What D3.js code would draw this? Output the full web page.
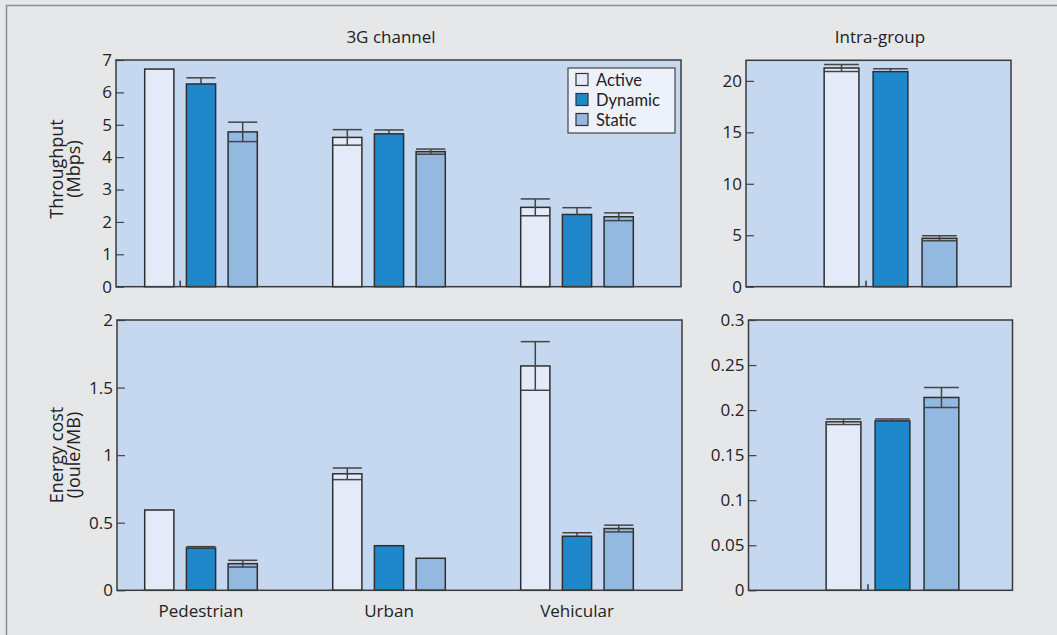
<!DOCTYPE html>
<html>
<head>
<meta charset="UTF-8"/>
<style>
  body { margin: 0; background: #e6e7e9; }
  text { font-family: "Open Sans", "Noto Sans", sans-serif; fill: #222; }
</style>
</head>
<body>
<script src="https://d3js.org/d3.v7.min.js"></script>
<script>
// data
var groups = ["Pedestrian", "Urban", "Vehicular"];
var series = ["Active", "Dynamic", "Static"];
var colors = ["#e4eaf7", "#1f88ca", "#94b9e0"];
// the dark Dynamic bars show only the upper whisker
var lowerWhisker = [true, false, true];

var throughput3G    = [[6.72, 6.26, 4.78], [4.61, 4.72, 4.17], [2.45, 2.23, 2.16]];
var throughput3GErr = [[0, 0.19, 0.30], [0.24, 0.12, 0.08], [0.26, 0.21, 0.12]];
var energy3G        = [[0.594, 0.313, 0.197], [0.862, 0.33, 0.237], [1.66, 0.40, 0.457]];
var energy3GErr     = [[0, 0.01, 0.025], [0.043, 0, 0], [0.18, 0.026, 0.025]];

var throughputIntra    = [21.25, 20.9, 4.7];
var throughputIntraErr = [0.33, 0.27, 0.24];
var energyIntra        = [0.187, 0.188, 0.214];
var energyIntraErr     = [0.003, 0.002, 0.011];

var tpTicks = [0, 1, 2, 3, 4, 5, 6, 7];
var enTicks = [0, 0.5, 1, 1.5, 2];
var tpIntraTicks = [0, 5, 10, 15, 20];
var enIntraTicks = [0, 0.05, 0.1, 0.15, 0.2, 0.25, 0.3];

var width = 1057, height = 635;
var svg = d3.select("body").append("svg")
    .attr("width", width)
    .attr("height", height);

svg.append("rect").attr("width", width).attr("height", height).attr("fill", "#e6e7e9");
svg.append("path").attr("d", "M6.5,635V5.5H1057")
    .attr("fill", "none").attr("stroke", "#8c8c8c").attr("stroke-width", 1.5);

function panel(opt) {
    var g = svg.append("g");
    var y = d3.scaleLinear().domain(opt.domain).range([opt.bottom, opt.top]);
    var x0 = d3.scaleBand().domain(opt.groups)
        .range([opt.left + opt.shift0, opt.right + opt.shift1]);
    var x1 = d3.scaleBand().domain(series)
        .range([-opt.inner / 2, opt.inner / 2]).paddingInner(opt.pad);

    g.append("rect")
        .attr("x", opt.left).attr("y", opt.top)
        .attr("width", opt.right - opt.left).attr("height", opt.bottom - opt.top)
        .attr("fill", "#c6d8ef");

    var bars = [];
    opt.groups.forEach(function(grp, i) {
        series.forEach(function(s, j) {
            bars.push({ g: grp, s: s, j: j, v: opt.values[i][j], e: opt.errors[i][j] });
        });
    });

    var cx = function(d) { return x0(d.g) + x0.bandwidth() / 2 + x1(d.s); };
    var bw = x1.bandwidth();
    var lo = function(d) { return lowerWhisker[d.j] ? d.v - d.e : d.v; };

    g.selectAll(".bar").data(bars).enter().append("rect")
        .attr("x", cx)
        .attr("y", function(d) { return y(d.v); })
        .attr("width", bw)
        .attr("height", function(d) { return y(0) - y(d.v); })
        .attr("fill", function(d) { return colors[d.j]; })
        .attr("stroke", "#2e2e2e").attr("stroke-width", 1.5);

    var eb = g.selectAll(".err").data(bars.filter(function(d) { return d.e > 0; }))
        .enter().append("g").attr("stroke", "#444").attr("stroke-width", 1.5);
    eb.append("line")
        .attr("x1", cx).attr("x2", function(d) { return cx(d) + bw; })
        .attr("y1", function(d) { return y(d.v + d.e); })
        .attr("y2", function(d) { return y(d.v + d.e); });
    eb.filter(function(d) { return lowerWhisker[d.j]; }).append("line")
        .attr("x1", cx).attr("x2", function(d) { return cx(d) + bw; })
        .attr("y1", function(d) { return y(d.v - d.e); })
        .attr("y2", function(d) { return y(d.v - d.e); });
    eb.append("line")
        .attr("x1", function(d) { return cx(d) + bw / 2; })
        .attr("x2", function(d) { return cx(d) + bw / 2; })
        .attr("y1", function(d) { return y(d.v + d.e); })
        .attr("y2", function(d) { return y(lo(d)); });

    // small tick between first two bars
    if (opt.midTick) {
        var first = bars[0];
        var tx = cx(first) + bw + (x1.step() - bw) / 2;
        g.append("line").attr("x1", tx).attr("x2", tx)
            .attr("y1", y(0)).attr("y2", y(0) - 6)
            .attr("stroke", "#333").attr("stroke-width", 1.5);
    }

    var ax = g.append("g")
        .attr("transform", "translate(" + opt.left + ",0)")
        .call(d3.axisLeft(y).tickValues(opt.ticks).tickSize(-8).tickPadding(4)
            .tickFormat(d3.format("~g")));
    ax.select(".domain").remove();
    ax.selectAll(".tick line").attr("stroke", "#444").attr("stroke-width", 1.2);
    ax.selectAll(".tick text").attr("font-size", 17).attr("fill", "#222");

    g.append("rect")
        .attr("x", opt.left).attr("y", opt.top)
        .attr("width", opt.right - opt.left).attr("height", opt.bottom - opt.top)
        .attr("fill", "none").attr("stroke", "#3a3a3a").attr("stroke-width", 1.5);

    if (opt.showLabels) {
        g.selectAll(".xl").data(opt.groups).enter().append("text")
            .attr("x", function(d) { return x0(d) + x0.bandwidth() / 2; })
            .attr("y", opt.bottom + 27)
            .attr("text-anchor", "middle").attr("font-size", 17)
            .text(function(d) { return d; });
    }
    return { x0: x0, y: y };
}

panel({ left: 116, right: 681, top: 60, bottom: 286.7, domain: [0, 7],
    groups: groups, values: throughput3G, errors: throughput3GErr, ticks: tpTicks,
    shift0: -9, shift1: -10, inner: 112.6, pad: 0.3, midTick: true });
panel({ left: 117, right: 682, top: 320, bottom: 590.3, domain: [0, 2],
    groups: groups, values: energy3G, errors: energy3GErr, ticks: enTicks,
    shift0: -10, shift1: -11, inner: 112.6, pad: 0.3, showLabels: true });
panel({ left: 746, right: 1011, top: 60.3, bottom: 286.7, domain: [0, 22],
    groups: ["Intra-group"], values: [throughputIntra], errors: [throughputIntraErr],
    ticks: tpIntraTicks, shift0: 24, shift1: 0, inner: 132.7, pad: 0.29, midTick: true });
panel({ left: 748.5, right: 1012.5, top: 320, bottom: 590.3, domain: [0, 0.3],
    groups: ["Intra-group"], values: [energyIntra], errors: [energyIntraErr],
    ticks: enIntraTicks, shift0: 24, shift1: 0, inner: 132.7, pad: 0.29, midTick: true });

// titles
svg.append("text").attr("x", 391).attr("y", 43).attr("text-anchor", "middle")
    .attr("font-size", 17).text("3G channel");
svg.append("text").attr("x", 880).attr("y", 43).attr("text-anchor", "middle")
    .attr("font-size", 17).text("Intra-group");

// y axis labels
function yLabel(lines, cy) {
    var t = svg.append("text")
        .attr("transform", "translate(64," + cy + ") rotate(-90)")
        .attr("text-anchor", "middle").attr("font-size", 18);
    lines.forEach(function(l, i) {
        t.append("tspan").attr("x", 0).attr("y", i === 0 ? -1 : 16).text(l);
    });
}
yLabel(["Throughput", "(Mbps)"], 169);
yLabel(["Energy cost", "(Joule/MB)"], 455);

// legend
var lg = svg.append("g").attr("transform", "translate(568,68)");
lg.append("rect").attr("width", 107).attr("height", 65)
    .attr("fill", "#edf2fa").attr("stroke", "#444").attr("stroke-width", 1.2);
var item = lg.selectAll(".li").data(series).enter().append("g")
    .attr("transform", function(d, i) { return "translate(8," + (5.5 + i * 20) + ")"; });
item.append("rect").attr("width", 12).attr("height", 12)
    .attr("fill", function(d, i) { return colors[i]; })
    .attr("stroke", "#333").attr("stroke-width", 1.2);
item.append("text").attr("x", 20).attr("y", 12.5)
    .style("font-family", "Lato, 'Open Sans', sans-serif")
    .attr("font-size", 16.5).text(function(d) { return d; });
</script>
</body>
</html>
